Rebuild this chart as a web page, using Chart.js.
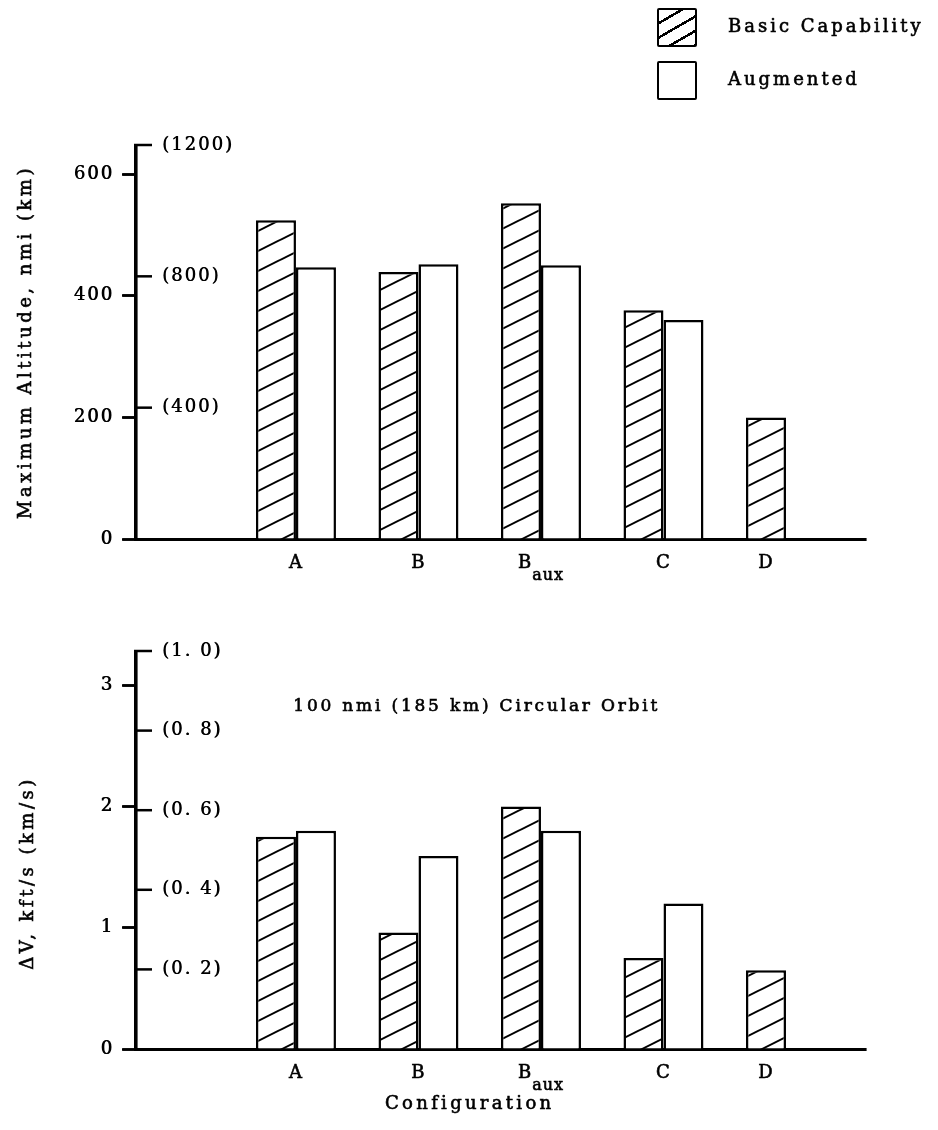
<!DOCTYPE html>
<html>
<head>
<meta charset="utf-8">
<script src="https://cdn.jsdelivr.net/npm/chart.js@4.4.1/dist/chart.umd.min.js"></script>
<style>
  body { margin: 0; background: #fff; }
  #page { position: relative; width: 938px; height: 1130px; overflow: hidden; }
  canvas { position: absolute; left: 0; }
  #altitude { top: 0; }
  #deltav { top: 590px; }
  .swatch { position: absolute; left: 657px; width: 36px; height: 35px; border: 2.5px solid #000; border-radius: 2px; background: #fff; }
  .swatch.hatch { background: repeating-linear-gradient(150deg, #fff 0 10px, #000 10px 12.5px); }
  .key { position: absolute; left: 728px; font: 18px "DejaVu Serif", serif; letter-spacing: 3px; color: #000; line-height: 20px; -webkit-text-stroke: 0.6px #000; }
</style>
</head>
<body>
<div id="page">
  <canvas id="altitude" width="938" height="590"></canvas>
  <canvas id="deltav" width="938" height="540"></canvas>
  <!-- legend -->
  <div class="swatch hatch" style="top:8px"></div>
  <div class="key" style="top:16px">Basic Capability</div>
  <div class="swatch" style="top:61px"></div>
  <div class="key" style="top:69px">Augmented</div>
</div>
<script>
// configurations along the bottom
const configLabels = ["A", "B", "B", "C", "D"];
const configSubs = ["", "", "aux", "", ""];

// maximum altitude, nmi
const altitudeBasic = [524, 439, 552, 376, 200];
const altitudeAugmented = [447, 452, 450, 360, null];
const nmiTicks = [0, 200, 400, 600];
const kmTicks = [400, 800, 1200];

// delta V for 100 nmi circular orbit, kft/s
const deltaVBasic = [1.75, 0.96, 2.0, 0.75, 0.65];
const deltaVAugmented = [1.8, 1.59, 1.8, 1.2, null];
const kftTicks = [0, 1, 2, 3];
const kmsTicks = [0.2, 0.4, 0.6, 0.8, 1.0];

const SERIF = '"DejaVu Serif", serif';

function hatchPattern() {
  const c = document.createElement("canvas");
  c.width = 40;
  c.height = 20;
  const g = c.getContext("2d");
  g.fillStyle = "#fff";
  g.fillRect(0, 0, 40, 20);
  g.strokeStyle = "#000";
  g.lineWidth = 2;
  for (const n of [-1, 0, 1]) {
    g.beginPath();
    g.moveTo(-40, 40 + n * 20);
    g.lineTo(80, -20 + n * 20);
    g.stroke();
  }
  return g.createPattern(c, "repeat");
}

// text a bit heavier, like the original lettering
function spacedText(ctx, text, x, y, font, spacing, align) {
  ctx.font = font;
  ctx.letterSpacing = spacing + "px";
  ctx.textAlign = align || "left";
  ctx.lineWidth = 0.6;
  ctx.strokeStyle = "#000";
  ctx.fillText(text, x, y);
  ctx.strokeText(text, x, y);
}

// letter spacing and a slight thickening for the axis tick labels
const lettering = {
  id: "lettering",
  beforeUpdate(chart) { chart.ctx.letterSpacing = "2px"; },
  beforeDraw(chart) {
    const ctx = chart.ctx;
    ctx.letterSpacing = "2px";
    ctx.shadowColor = "#000";
    ctx.shadowBlur = 0;
    ctx.shadowOffsetX = 0.6;
  },
  beforeDatasetsDraw(chart) {
    chart.ctx.shadowColor = "rgba(0,0,0,0)";
    chart.ctx.shadowOffsetX = 0;
  }
};

// short marks for the metric scale, inside the axis
const metricMarks = {
  id: "metricMarks",
  afterDraw(chart) {
    const s = chart.scales.y2;
    const ctx = chart.ctx;
    ctx.save();
    ctx.strokeStyle = "#000";
    ctx.lineWidth = 2.5;
    s.ticks.forEach((t) => {
      const y = s.getPixelForValue(t.value);
      ctx.beginPath();
      ctx.moveTo(s.left - 1, y);
      ctx.lineTo(s.left + 17, y);
      ctx.stroke();
    });
    ctx.restore();
  }
};

// category names, centred under the bars that are drawn (B with subscript aux)
const configNames = {
  id: "configNames",
  afterDraw(chart) {
    const ctx = chart.ctx;
    const area = chart.chartArea;
    ctx.save();
    ctx.fillStyle = "#000";
    ctx.textBaseline = "alphabetic";
    configLabels.forEach((lab, i) => {
      const xs = chart.data.datasets
        .map((d, k) => ({ v: d.data[i].y, bar: chart.getDatasetMeta(k).data[i] }))
        .filter((o) => o.v != null)
        .map((o) => o.bar.x);
      const cx = xs.reduce((a, b) => a + b, 0) / xs.length;
      ctx.letterSpacing = "1px";
      ctx.font = "18px " + SERIF;
      const w1 = ctx.measureText(lab).width;
      ctx.font = "16px " + SERIF;
      const w2 = configSubs[i] ? ctx.measureText(configSubs[i]).width : 0;
      const left = cx - (w1 + w2) / 2;
      spacedText(ctx, lab, left, area.bottom + 29, "18px " + SERIF, 1);
      if (w2) spacedText(ctx, configSubs[i], left + w1, area.bottom + 41, "16px " + SERIF, 1);
    });
    const opt = chart.options.plugins.extraText;
    // rotated axis title
    ctx.save();
    ctx.translate(opt.titleX, (area.top + area.bottom) / 2 + opt.titleShift);
    ctx.rotate(-Math.PI / 2);
    ctx.textBaseline = "middle";
    spacedText(ctx, opt.yTitle, 0, 0, "18px " + SERIF, 3.5, "center");
    ctx.restore();
    const xs = chart.scales.x;
    const mid = (xs.getPixelForValue(1) + xs.getPixelForValue(2)) / 2;
    if (opt.note) {
      ctx.textBaseline = "middle";
      spacedText(ctx, opt.note, mid - 3, area.top + 56, "17px " + SERIF, 2.8, "center");
    }
    if (opt.xTitle) {
      ctx.textBaseline = "middle";
      spacedText(ctx, opt.xTitle, mid - 10, area.bottom + 55, "18px " + SERIF, 3.3, "center");
    }
    ctx.restore();
  }
};

const hatch = hatchPattern();

function makeChart(id, basic, augmented, s) {
  const toPoints = (arr) => arr.map((v, i) => ({ x: i, y: v }));
  return new Chart(document.getElementById(id), {
    type: "bar",
    data: {
      datasets: [
        { label: "Basic Capability", data: toPoints(basic), backgroundColor: hatch, borderColor: "#000", borderWidth: 2.5 },
        { label: "Augmented", data: toPoints(augmented), backgroundColor: "#fff", borderColor: "#000", borderWidth: 2.5 }
      ]
    },
    options: {
      responsive: false,
      animation: false,
      events: [],
      categoryPercentage: 0.653,
      barPercentage: 1,
      layout: { padding: { top: s.padTop, right: 73, bottom: 0, left: 0 } },
      plugins: {
        legend: { display: false },
        tooltip: { enabled: false },
        extraText: s.text
      },
      scales: {
        x: {
          type: "linear",
          offset: false,
          min: -1.314,
          max: 4.645,
          afterBuildTicks: (a) => { a.ticks = configLabels.map((_, i) => ({ value: i })); },
          ticks: { display: false },
          grid: { drawOnChartArea: false, drawTicks: false },
          border: { color: "#000", width: 3 },
          afterFit: (a) => { a.height = s.xHeight; }
        },
        y: {
          position: "left",
          weight: 1,
          min: 0,
          max: s.yMax,
          afterBuildTicks: (a) => { a.ticks = s.yTicks.map((v) => ({ value: v })); },
          ticks: { color: "#000", padding: 8, font: { family: SERIF, size: 18 } },
          grid: { drawOnChartArea: false, drawTicks: true, tickLength: 13, tickWidth: 2.5, tickColor: "#000" },
          border: { color: "#000", width: 3 },
          afterFit: (a) => { a.width = 135; }
        },
        y2: {
          position: "left",
          weight: 0,
          min: 0,
          max: s.y2Max,
          afterBuildTicks: (a) => { a.ticks = s.y2Ticks.map((v) => ({ value: v })); },
          ticks: { mirror: true, padding: 27, color: "#000", font: { family: SERIF, size: 18 }, callback: s.y2Label },
          grid: { display: false },
          border: { display: false },
          afterFit: (a) => { a.width = 0; }
        }
      }
    },
    plugins: [lettering, metricMarks, configNames]
  });
}

makeChart("altitude", altitudeBasic, altitudeAugmented, {
  padTop: 145,
  xHeight: 51,
  yMax: 1200 / 1.852,
  yTicks: nmiTicks,
  y2Max: 1200,
  y2Ticks: kmTicks,
  y2Label: (v) => "(" + v + ")",
  text: { yTitle: "Maximum Altitude, nmi (km)", titleX: 26, titleShift: 0 }
});

makeChart("deltav", deltaVBasic, deltaVAugmented, {
  padTop: 61,
  xHeight: 81,
  yMax: 1000 / 304.8,
  yTicks: kftTicks,
  y2Max: 1.0,
  y2Ticks: kmsTicks,
  y2Label: (v) => "(" + v.toFixed(1).replace(".", ". ") + ")",
  text: {
    yTitle: "\u0394V, kft/s (km/s)",
    titleX: 28,
    titleShift: 23,
    note: "100 nmi (185 km) Circular Orbit",
    xTitle: "Configuration"
  }
});
</script>
</body>
</html>
